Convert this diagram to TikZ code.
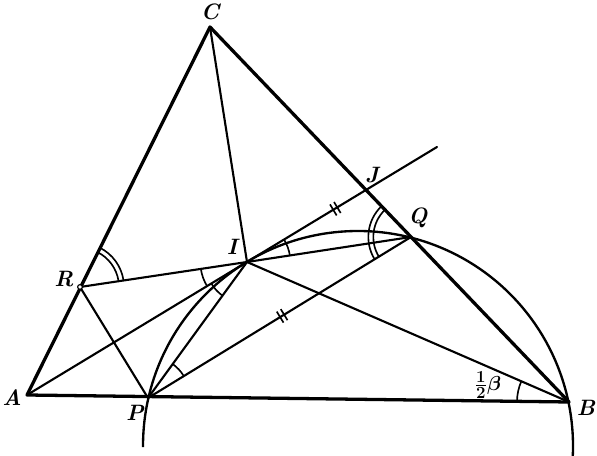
\documentclass[tikz,border=0pt]{standalone}
\usepackage{amsmath}
\usepackage{bm}
\usetikzlibrary{calc}
\begin{document}
\begin{tikzpicture}[x=0.03cm,y=0.03cm,
  thickl/.style={line width=2.8pt,line cap=round,line join=round},
  thinl/.style={line width=1.8pt,line cap=round},
  mk/.style={line width=1.4pt},
  lab/.style={font=\fontsize{19}{21}\selectfont\bfseries\itshape, inner sep=0pt},
  betalab/.style={font=\fontsize{19}{21}\selectfont, inner sep=0pt},
  ptdot/.style={circle,draw,fill=white,inner sep=0pt,minimum size=4pt,line width=1pt}]
\useasboundingbox (0,0) rectangle (597,456);
% points
\coordinate (A) at (27,61);
\coordinate (B) at (569,54);
\coordinate (C) at (210,429);
\coordinate (P) at (148,58);
\coordinate (Q) at (411,219);
\coordinate (R) at (80,169);
\coordinate (I) at (247,194);
\coordinate (J) at (368,267);
\coordinate (E) at (437,309);
\coordinate (O) at (358,10);
% circle arc through P, I, Q, B
\draw[line width=2pt] (O) ++(180.3:6.45cm) arc[start angle=180.3, end angle=-2.7, radius=6.45cm];
% inner lines
\draw[thinl] (C) -- (I);
\draw[thinl] (A) -- (E);
\draw[thinl] (R) -- (I) -- (Q);
\draw[thinl] (R) -- (P);
\draw[thinl] (P) -- (I);
\draw[thinl] (P) -- (Q);
\draw[thinl] (I) -- (B);
% triangle
\draw[thickl] (A) -- (C) -- (B) -- cycle;
% angle marks
\draw[mk] (B) ++(156.5:1.56cm) arc[start angle=156.5, end angle=179.3, radius=1.56cm];
\draw[mk] (R) ++(63.4:1.17cm) arc[start angle=63.4, end angle=8.5, radius=1.17cm];
\draw[mk] (R) ++(63.4:1.32cm) arc[start angle=63.4, end angle=8.5, radius=1.32cm];
\draw[mk] (Q) ++(133.7:1.13cm) arc[start angle=133.7, end angle=211.5, radius=1.13cm];
\draw[mk] (Q) ++(133.7:1.28cm) arc[start angle=133.7, end angle=211.5, radius=1.28cm];
\draw[mk] (I) ++(8.7:1.3cm) arc[start angle=8.7, end angle=31.1, radius=1.3cm];
\draw[mk] (I) ++(188.5:1.4cm) arc[start angle=188.5, end angle=211.2, radius=1.4cm];
\draw[mk] (I) ++(211.2:1.25cm) arc[start angle=211.2, end angle=233.9, radius=1.25cm];
\draw[mk] (P) ++(31.5:1.26cm) arc[start angle=31.5, end angle=54, radius=1.26cm];
% tick marks
\coordinate (T1) at ($(I)!0.73!(J)$);
\coordinate (T2) at ($(P)!0.51!(Q)$);
\draw[mk] ($(T1)!2pt!(J)!5.5pt!90:(J)$) -- ($(T1)!2pt!(J)!5.5pt!-90:(J)$);
\draw[mk] ($(T1)!-2pt!(J)!5.5pt!90:(J)$) -- ($(T1)!-2pt!(J)!5.5pt!-90:(J)$);
\draw[mk] ($(T2)!2pt!(Q)!5.5pt!90:(Q)$) -- ($(T2)!2pt!(Q)!5.5pt!-90:(Q)$);
\draw[mk] ($(T2)!-2pt!(Q)!5.5pt!90:(Q)$) -- ($(T2)!-2pt!(Q)!5.5pt!-90:(Q)$);
% small points
\node[ptdot] (pR) at (R) {};
% labels
\node[lab] (lC) at (210,444) {C};
\node[lab] (lJ) at (372,281) {J};
\node[lab] (lQ) at (418,238) {Q};
\node[lab] (lI) at (232,209) {I};
\node[lab] (lR) at (64,177) {R};
\node[lab] (lA) at (12,58) {A};
\node[lab] (lP) at (135,43) {P};
\node[lab] (lB) at (586,48) {B};
\node[betalab] (lbeta) at (488,71) {$\bm{\frac{1}{2}\beta}$};
\end{tikzpicture}
\end{document}
